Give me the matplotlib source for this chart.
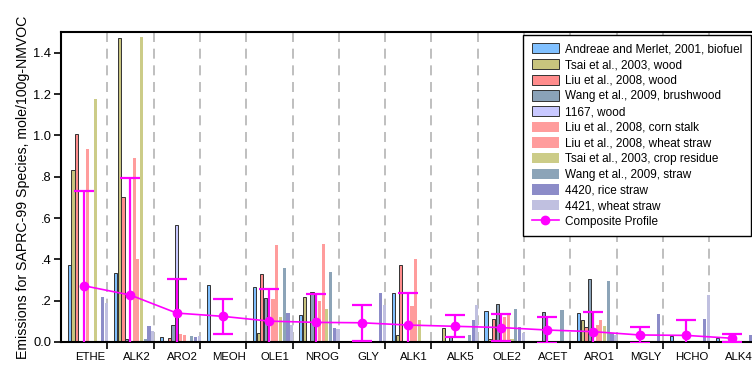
import matplotlib
matplotlib.use("Agg")
import matplotlib.pyplot as plt
import numpy as np

plt.rcParams['font.family'] = ['Liberation Sans', 'DejaVu Sans']

# species groups on the x axis
species = ["ETHE", "ALK2", "ARO2", "MEOH", "OLE1", "NROG", "GLY", "ALK1",
           "ALK5", "OLE2", "ACET", "ARO1", "MGLY", "HCHO", "ALK4"]

# one list per source profile, same order as species
andreae_biofuel = [0.375, 0.333, 0.024, 0.274, 0.267, 0.129, 0, 0.235, 0.005, 0.150, 0, 0.142, 0, 0.030, 0.021]
tsai_wood = [0.830, 1.472, 0, 0, 0.042, 0.216, 0, 0.032, 0.066, 0.015, 0, 0.105, 0, 0, 0]
liu_wood = [1.006, 0.702, 0.018, 0, 0.327, 0, 0, 0.375, 0, 0.111, 0, 0.072, 0, 0, 0.005]
wang_brushwood = [0, 0.013, 0.080, 0, 0.214, 0.240, 0, 0, 0.029, 0.184, 0.145, 0.306, 0, 0, 0]
wood_1167 = [0, 0, 0.568, 0, 0, 0, 0, 0, 0, 0, 0, 0, 0, 0, 0]
liu_corn_stalk = [0.932, 0.892, 0.039, 0, 0.208, 0.198, 0, 0.174, 0, 0.120, 0, 0.084, 0, 0, 0]
liu_wheat_straw = [0, 0.404, 0.032, 0, 0.467, 0.473, 0, 0.400, 0, 0.142, 0, 0.108, 0, 0, 0]
tsai_crop_residue = [1.176, 1.475, 0, 0, 0.121, 0.159, 0, 0.106, 0, 0.013, 0, 0.079, 0, 0, 0]
wang_straw = [0, 0.014, 0.030, 0, 0.359, 0.340, 0, 0, 0.034, 0.158, 0.155, 0.295, 0, 0, 0]
rice_straw_4420 = [0.219, 0.077, 0.024, 0, 0.139, 0.070, 0.235, 0, 0.105, 0.075, 0, 0.043, 0.135, 0.113, 0.032]
wheat_straw_4421 = [0.190, 0.054, 0.030, 0, 0.082, 0.065, 0.179, 0, 0.180, 0.042, 0, 0.034, 0, 0.227, 0]

composite = [0.272, 0.227, 0.140, 0.124, 0.101, 0.095, 0.093, 0.082, 0.076, 0.070, 0.058, 0.050, 0.034, 0.032, 0.018]
composite_err = [0.460, 0.568, 0.163, 0.084, 0.155, 0.138, 0.086, 0.153, 0.054, 0.066, 0.063, 0.095, 0.040, 0.074, 0.019]

profiles = [
    ("Andreae and Merlet, 2001, biofuel", andreae_biofuel, "#80c0ff", True),
    ("Tsai et al., 2003, wood", tsai_wood, "#c8c47e", True),
    ("Liu et al., 2008, wood", liu_wood, "#ff8c8c", True),
    ("Wang et al., 2009, brushwood", wang_brushwood, "#8aa2b8", True),
    ("1167, wood", wood_1167, "#c8c8ff", True),
    ("Liu et al., 2008, corn stalk", liu_corn_stalk, "#ff9c9c", False),
    ("Liu et al., 2008, wheat straw", liu_wheat_straw, "#ff9c9c", False),
    ("Tsai et al., 2003, crop residue", tsai_crop_residue, "#cccc88", False),
    ("Wang et al., 2009, straw", wang_straw, "#8ca4b8", False),
    ("4420, rice straw", rice_straw_4420, "#8c8cc8", False),
    ("4421, wheat straw", wheat_straw_4421, "#c0c0e0", False),
]

fig = plt.figure(figsize=(7.52, 3.68), dpi=100)
ax = fig.add_axes([61 / 752, 26 / 368, 694.5 / 752, 310 / 368])

x = np.arange(len(species))
step = 0.0804
width = 0.068

# group separators
for b in x[:-1] + 0.5:
    ax.axvline(b, color="#b4b4b4", lw=1.2, ls=(0, (6, 4)), zorder=0)

handles = []
for i, (name, vals, color, edged) in enumerate(profiles):
    if edged:
        h = ax.bar(x + (i - 4) * step, vals, width, color=color, edgecolor="#333333",
                   linewidth=0.7, label=name, zorder=2)
    else:
        h = ax.bar(x + (i - 4) * step, vals, width, color=color, linewidth=0,
                   label=name, zorder=2)
    handles.append(h)

ax.errorbar(x, composite, yerr=composite_err, fmt="none", ecolor="#ff00ff",
            elinewidth=1.6, capsize=7, capthick=1.6, zorder=5)
line, = ax.plot(x, composite, color="#ff00ff", marker="o", markersize=6, lw=1.2,
                label="Composite Profile", zorder=6)
handles.append(line)

ax.set_xlim(-0.5, len(species) - 0.5)
ax.set_ylim(0, 1.5)
ax.set_yticks([0, 0.2, 0.4, 0.6, 0.8, 1.0, 1.2, 1.4])
ax.set_yticklabels(["0.0", ".2", ".4", ".6", ".8", "1.0", "1.2", "1.4"], fontsize=9.3)
ax.set_xticks(x[:-1] + 0.5)
ax.set_xticklabels([])
ax.set_xticks(x + 0.13, minor=True)
ax.set_xticklabels(species, minor=True, fontsize=8.2)
ax.tick_params(axis="x", which="minor", length=0, pad=7)
ax.tick_params(axis="x", which="major", length=5, width=1.2, direction="out")
ax.tick_params(axis="y", length=5, width=1.2, direction="out", pad=2)
ax.set_ylabel("Emissions for SAPRC-99 Species, mole/100g-NMVOC", fontsize=10.2, labelpad=2)

for s in ["left", "bottom", "top"]:
    ax.spines[s].set_linewidth(1.5)
ax.spines["right"].set_visible(False)

leg = ax.legend(handles=handles, loc="upper right", bbox_to_anchor=(750.7 / 752, 333 / 368),
                bbox_transform=fig.transFigure, borderaxespad=0, fontsize=8.5,
                fancybox=False, edgecolor="black", framealpha=1,
                handlelength=2.3, handleheight=0.95, labelspacing=0.3,
                borderpad=0.7, handletextpad=0.55)
leg.get_frame().set_linewidth(1.0)
leg.set_zorder(10)

plt.savefig("out.png", dpi=100)
plt.close()
